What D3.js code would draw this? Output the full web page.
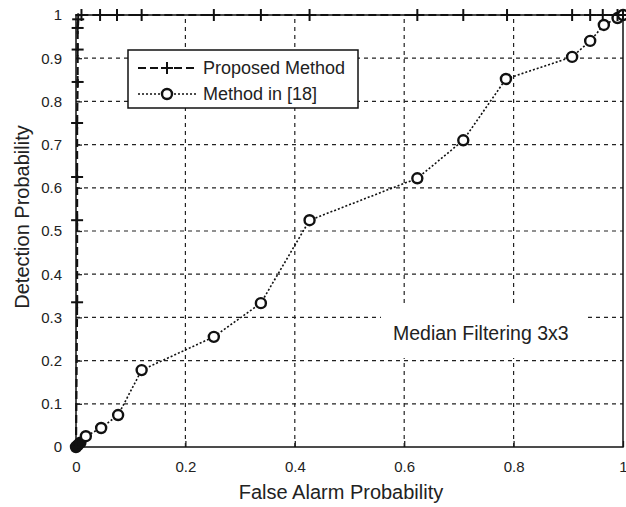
<!DOCTYPE html>
<html>
<head>
<meta charset="utf-8">
<script src="https://cdn.jsdelivr.net/npm/d3@7"></script>
<style>
  body { margin: 0; background: #fff; }
  text { font-family: "Liberation Sans", Arial, sans-serif; fill: #222; }
</style>
</head>
<body>
<div id="chart"></div>
<script>
// Size of the picture
var width = 626;
var height = 507;
var margin = { top: 15, right: 3, bottom: 60, left: 76 };

// Data
var xTicks = [0, 0.2, 0.4, 0.6, 0.8, 1];
var yTicks = [0, 0.1, 0.2, 0.3, 0.4, 0.5, 0.6, 0.7, 0.8, 0.9, 1];

var proposedFa = [0, 0.002, 0.002, 0.002, 0.002, 0.003, 0.003, 0.003, 0.004, 0.01, 0.044, 0.075, 0.12, 0.252, 0.338, 0.427, 0.624, 0.708, 0.788, 0.907, 0.94, 0.963, 0.99, 1];
var proposedPd = [0, 0.335, 0.525, 0.625, 0.75, 0.845, 0.92, 0.97, 0.99, 1, 1, 1, 1, 1, 1, 1, 1, 1, 1, 1, 1, 1, 1, 1];

var refFa = [0, 0.003, 0.008, 0.018, 0.046, 0.077, 0.12, 0.252, 0.338, 0.427, 0.624, 0.708, 0.786, 0.907, 0.94, 0.965, 0.99, 1];
var refPd = [0, 0.004, 0.01, 0.025, 0.044, 0.074, 0.178, 0.255, 0.333, 0.525, 0.622, 0.71, 0.852, 0.903, 0.94, 0.977, 0.993, 1];

var seriesNames = ["Proposed Method", "Method in [18]"];
var noteText = "Median Filtering 3x3";

function zip(xs, ys) {
    return xs.map(function(x, i) { return [x, ys[i]]; });
}

function main() {
    var svg = d3.select("#chart").append("svg")
        .attr("width", width)
        .attr("height", height);

    var innerW = width - margin.left - margin.right;
    var innerH = height - margin.top - margin.bottom;

    var x = d3.scaleLinear().domain([0, 1]).range([margin.left, margin.left + innerW]);
    var y = d3.scaleLinear().domain([0, 1]).range([margin.top + innerH, margin.top]);

    // grid
    var grid = svg.append("g");
    grid.selectAll(".gx")
        .data(xTicks.slice(1, -1))
        .enter().append("line")
        .attr("x1", function(d) { return x(d); })
        .attr("x2", function(d) { return x(d); })
        .attr("y1", y(0)).attr("y2", y(1))
        .attr("stroke", "#222").attr("stroke-width", 1.2)
        .attr("stroke-dasharray", "4,4");
    grid.selectAll(".gy")
        .data(yTicks.slice(1, -1))
        .enter().append("line")
        .attr("y1", function(d) { return y(d); })
        .attr("y2", function(d) { return y(d); })
        .attr("x1", x(0)).attr("x2", x(1))
        .attr("stroke", "#222").attr("stroke-width", 1.2)
        .attr("stroke-dasharray", "4,4");

    // axes with inward ticks
    var xAxis = d3.axisBottom(x).tickValues(xTicks).tickSize(-6).tickPadding(14)
        .tickFormat(function(d) { return d3.format("")(d); });
    var gx = svg.append("g").attr("transform", "translate(0," + y(0) + ")").call(xAxis);
    var yAxis = d3.axisLeft(y).tickValues(yTicks).tickSize(-6).tickPadding(14)
        .tickFormat(function(d) { return d3.format("")(d); });
    var gy = svg.append("g").attr("transform", "translate(" + x(0) + ",0)").call(yAxis);
    [gx, gy].forEach(function(g) {
        g.select(".domain").remove();
        g.selectAll("line").attr("stroke", "#222").attr("stroke-width", 1.3);
        g.selectAll("text").style("font-size", "15px").attr("fill", "#333");
    });
    // last x label sits at the right edge
    gx.selectAll("text").filter(function(d) { return d === 1; })
        .attr("text-anchor", "end").attr("dx", "4");

    // frame
    svg.append("rect")
        .attr("x", x(0)).attr("y", y(1))
        .attr("width", x(1) - x(0)).attr("height", y(0) - y(1))
        .attr("fill", "none").attr("stroke", "#111").attr("stroke-width", 1.5);

    // note with a white backing
    svg.append("rect")
        .attr("x", 381).attr("y", 306).attr("width", 205).attr("height", 52)
        .attr("fill", "#fff");
    svg.append("text")
        .attr("x", 393).attr("y", 340)
        .style("font-size", "19.5px")
        .text(noteText);

    var line = d3.line()
        .x(function(d) { return x(d[0]); })
        .y(function(d) { return y(d[1]); });

    var refData = zip(refFa, refPd);
    var propData = zip(proposedFa, proposedPd);

    // Method in [18]
    svg.append("path")
        .datum(refData)
        .attr("d", line)
        .attr("fill", "none").attr("stroke", "#111").attr("stroke-width", 1.6)
        .attr("stroke-dasharray", "2,2");
    svg.selectAll(".refpt")
        .data(refData)
        .enter().append("circle")
        .attr("cx", function(d) { return x(d[0]); })
        .attr("cy", function(d) { return y(d[1]); })
        .attr("r", 5)
        // markers crowded at the origin blend into a black blob
        .attr("fill", function(d) { return d[0] < 0.01 ? "#111" : "#fff"; })
        .attr("stroke", "#111").attr("stroke-width", 2.4);

    // Proposed Method
    svg.append("path")
        .datum(propData)
        .attr("d", line)
        .attr("fill", "none").attr("stroke", "#111").attr("stroke-width", 2.2)
        .attr("stroke-dasharray", "8,4");
    var plus = svg.selectAll(".proppt")
        .data(propData)
        .enter().append("g")
        .attr("transform", function(d) { return "translate(" + x(d[0]) + "," + y(d[1]) + ")"; });
    plus.append("line").attr("x1", -6).attr("x2", 6)
        .attr("stroke", "#111").attr("stroke-width", 2);
    plus.append("line").attr("y1", -6).attr("y2", 6)
        .attr("stroke", "#111").attr("stroke-width", 2);

    // legend
    var lg = svg.append("g").attr("transform", "translate(128,50)");
    lg.append("rect").attr("width", 230).attr("height", 58)
        .attr("fill", "#fff").attr("stroke", "#111").attr("stroke-width", 1.5);
    lg.append("line").attr("x1", 10).attr("x2", 68).attr("y1", 18).attr("y2", 18)
        .attr("stroke", "#111").attr("stroke-width", 2.2).attr("stroke-dasharray", "8,4");
    lg.append("line").attr("x1", 39).attr("x2", 39).attr("y1", 12).attr("y2", 24)
        .attr("stroke", "#111").attr("stroke-width", 2);
    lg.append("line").attr("x1", 33).attr("x2", 45).attr("y1", 18).attr("y2", 18)
        .attr("stroke", "#111").attr("stroke-width", 2);
    lg.append("line").attr("x1", 10).attr("x2", 68).attr("y1", 44).attr("y2", 44)
        .attr("stroke", "#111").attr("stroke-width", 1.6).attr("stroke-dasharray", "2,2");
    lg.append("circle").attr("cx", 39).attr("cy", 44).attr("r", 5)
        .attr("fill", "#fff").attr("stroke", "#111").attr("stroke-width", 2.4);
    lg.selectAll(".lt")
        .data(seriesNames)
        .enter().append("text")
        .attr("x", 75)
        .attr("y", function(d, i) { return 24 + i * 26; })
        .style("font-size", "18px")
        .text(function(d) { return d; });

    // axis titles
    svg.append("text")
        .attr("x", 341).attr("y", 499)
        .attr("text-anchor", "middle")
        .style("font-size", "20px")
        .text("False Alarm Probability");
    svg.append("text")
        .attr("transform", "translate(29,217) rotate(-90)")
        .attr("text-anchor", "middle")
        .style("font-size", "20px")
        .text("Detection Probability");
}

window.onload = function() {
    main();
};
</script>
</body>
</html>
